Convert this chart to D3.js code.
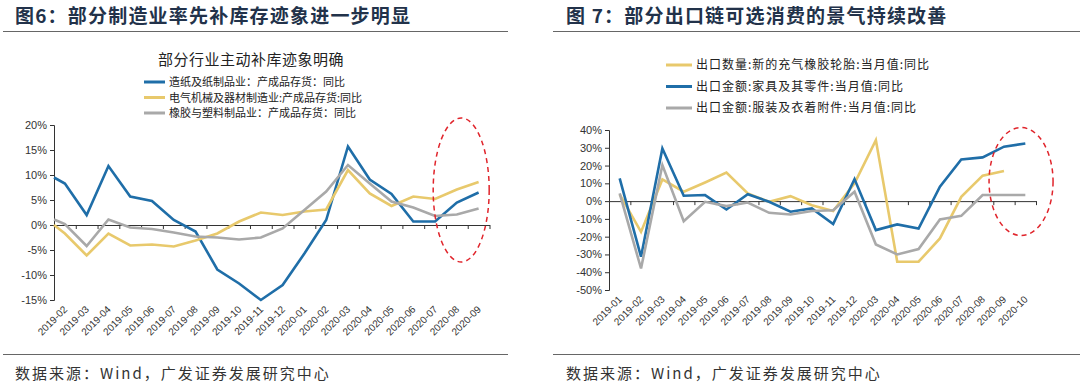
<!DOCTYPE html>
<html lang="zh">
<head>
<meta charset="utf-8">
<title>图6 图7</title>
<script src="https://cdn.jsdelivr.net/npm/d3@7"></script>
<style>
  body { margin: 0; background: #fff; }
  svg { display: block; }
  .cn { font-family: "Noto Sans CJK SC", sans-serif; }
  .num { font-family: "Liberation Sans", Arial, sans-serif; }
</style>
</head>
<body>
<script>
// ---- 图6 data ----
const monthsL = ['2019-02','2019-03','2019-04','2019-05','2019-06','2019-07','2019-08','2019-09','2019-10','2019-11',
  '2019-12','2020-01','2020-02','2020-03','2020-04','2020-05','2020-06','2020-07','2020-08','2020-09']
// value at the left edge of the axis (line starts there)
const startL = [9.5, 0, 1.1]
const paper = [8.3, 2.0, 11.8, 5.7, 4.8, 1.0, -1.3, -8.9, -11.7, -15.0, -12.0, -5.7, 1.0, 15.7, 9.1, 6.2, 0.7, 0.7, 4.5, 6.5]
const electric = [-1.7, -6.1, -1.7, -4.1, -3.9, -4.3, -3.1, -1.7, 0.7, 2.5, 2.0, 2.7, 3.1, 11.0, 6.3, 3.8, 5.7, 5.2, 7.1, 8.6]
const rubber = [0.2, -4.2, 1.1, -0.5, -0.8, -1.5, -2.3, -2.5, -2.9, -2.5, -0.7, 3.0, 6.7, 12.0, 8.3, 4.7, 3.5, 1.8, 2.1, 3.3]
const legendL = ['造纸及纸制品业：产成品存货：同比', '电气机械及器材制造业:产成品存货:同比', '橡胶与塑料制品业：产成品存货：同比']
const ticksL = [-15, -10, -5, 0, 5, 10, 15, 20]

// ---- 图7 data ----
const monthsR = ['2019-01','2019-02','2019-03','2019-04','2019-05','2019-06','2019-07','2019-08','2019-09','2019-10',
  '2019-11','2019-12','2020-03','2020-04','2020-05','2020-06','2020-07','2020-08','2020-09','2020-10']
const tyres = [3.8, -17.3, 12.2, 5.3, 10.5, 16.0, 4.3, -0.4, 2.8, -2.3, -5.6, 10.0, 34.3, -34.1, -34.1, -21.0, 2.4, 14.3, 16.9, null]
const furniture = [12.8, -31.3, 29.6, 3.0, 3.4, -4.7, 3.9, -0.4, -6.0, -4.1, -12.9, 12.4, -16.3, -13.1, -15.4, 8.1, 23.4, 24.6, 30.6, 32.4]
const clothing = [4.3, -37.9, 20.3, -11.3, -0.4, -2.8, -0.8, -6.6, -7.5, -5.6, -5.1, 5.3, -24.4, -30.0, -27.0, -10.3, -8.3, 3.4, 3.4, 3.4]
const legendR = ['出口数量:新的充气橡胶轮胎:当月值:同比', '出口金额:家具及其零件:当月值:同比', '出口金额:服装及衣着附件:当月值:同比']
const ticksR = [-50, -40, -30, -20, -10, 0, 10, 20, 30, 40]

const BLUE = '#1f6ea8', YELLOW = '#e8c96c', GRAY = '#a9a9a9'

const svg = d3.select('body').append('svg')
  .attr('width', 1080)
  .attr('height', 387)

// headers and footers
function frame(x0, x1, tx, title) {
  svg.append('text').attr('class', 'cn').attr('x', tx).attr('y', 23)
    .attr('font-size', 19).attr('font-weight', 'bold').attr('letter-spacing', 1.2)
    .attr('fill', '#22324a').text(title)
  svg.append('line').attr('x1', x0).attr('x2', x1).attr('y1', 31.5).attr('y2', 31.5)
    .attr('stroke', '#666').attr('stroke-width', 1)
  svg.append('line').attr('x1', x0).attr('x2', x1).attr('y1', 354.5).attr('y2', 354.5)
    .attr('stroke', '#666').attr('stroke-width', 1)
  svg.append('text').attr('class', 'cn').attr('x', tx).attr('y', 379)
    .attr('font-size', 15).attr('letter-spacing', 2).attr('fill', '#333')
    .text('数据来源：Wind，广发证券发展研究中心')
}
frame(3, 508, 15, '图6：部分制造业率先补库存迹象进一步明显')
frame(553, 1080, 566, '图 7：部分出口链可选消费的景气持续改善')

function chart(o) {
  const g = svg.append('g')
  const n = o.months.length
  const x = d3.scaleLinear().domain([0, n]).range(o.xr)
  const y = d3.scaleLinear().domain(o.yd).range(o.yr)

  // y axis
  const ya = g.append('g').attr('transform', `translate(${o.xr[0]},0)`)
    .call(d3.axisLeft(y).tickValues(o.ticks).tickSize(4).tickFormat(d => d + '%'))
  ya.select('.domain').attr('stroke', '#333')
  ya.selectAll('.tick line').attr('stroke', '#333')
  ya.selectAll('text').attr('class', 'num').attr('font-size', 11).attr('fill', '#333')

  // x axis on zero line
  const xa = g.append('g').attr('transform', `translate(0,${y(0)})`)
    .call(d3.axisBottom(x).tickValues(d3.range(1, n + 1)).tickSize(4).tickSizeOuter(0).tickFormat(''))
  xa.select('.domain').attr('stroke', '#333')
  xa.selectAll('.tick line').attr('stroke', '#333')

  // rotated month labels
  g.selectAll('.mlab').data(o.months).enter().append('text')
    .attr('class', 'num')
    .attr('font-size', 10).attr('fill', '#333')
    .attr('text-anchor', 'end')
    .attr('transform', (d, i) => `translate(${x(i + 0.5) + 3},${o.yr[0] + 10}) rotate(-45)`)
    .text(d => d)

  const line = d3.line()
    .defined(d => d[1] != null)
    .x(d => x(d[0])).y(d => y(d[1]))

  o.series.forEach(s => {
    let pts = s.values.map((v, i) => [i + 0.5, v])
    if (s.start != null) pts = [[0, s.start]].concat(pts)
    g.append('path').attr('d', line(pts))
      .attr('fill', 'none').attr('stroke', s.color).attr('stroke-width', 2.6)
      .attr('stroke-linejoin', 'miter')
  })

  // legend
  o.series.forEach((s, i) => {
    const ly = o.legY + i * o.legStep
    g.append('line').attr('x1', o.legX).attr('x2', o.legX + o.legLen)
      .attr('y1', ly).attr('y2', ly).attr('stroke', s.color).attr('stroke-width', 3)
    g.append('text').attr('class', 'cn').attr('x', o.legX + o.legLen + 4).attr('y', ly + 4)
      .attr('font-size', o.legFont).attr('letter-spacing', o.legSpace).attr('fill', '#222').text(s.name)
  })

  // red dashed ellipse around the latest months
  g.append('ellipse')
    .attr('cx', x(o.ell[0])).attr('cy', y(o.ell[1]))
    .attr('rx', o.ell[2]).attr('ry', o.ell[3])
    .attr('fill', 'none').attr('stroke', '#e0242b').attr('stroke-width', 1.5)
    .attr('stroke-dasharray', '5,4')
  return g
}

const gl = chart({
  months: monthsL, xr: [54, 489.5], yd: [-15, 20], yr: [300, 125], ticks: ticksL,
  series: [
    { name: legendL[0], values: paper, color: BLUE, start: startL[0] },
    { name: legendL[1], values: electric, color: YELLOW, start: startL[1] },
    { name: legendL[2], values: rubber, color: GRAY, start: startL[2] }
  ],
  legX: 144, legY: 82, legStep: 15.5, legLen: 21, legFont: 11, legSpace: 0,
  ell: [18.7, 7, 28, 72]
})
gl.append('text').attr('class', 'cn').attr('x', 251).attr('y', 65).attr('text-anchor', 'middle')
  .attr('font-size', 15).attr('letter-spacing', 0.5).attr('fill', '#222').text('部分行业主动补库迹象明确')

chart({
  months: monthsR, xr: [609, 1036], yd: [-50, 40], yr: [290, 130], ticks: ticksR,
  series: [
    { name: legendR[0], values: tyres, color: YELLOW },
    { name: legendR[1], values: furniture, color: BLUE },
    { name: legendR[2], values: clothing, color: GRAY }
  ],
  legX: 666, legY: 65, legStep: 21.5, legLen: 26, legFont: 12, legSpace: 1,
  ell: [19.3, 11, 32, 54]
})
</script>
</body>
</html>
